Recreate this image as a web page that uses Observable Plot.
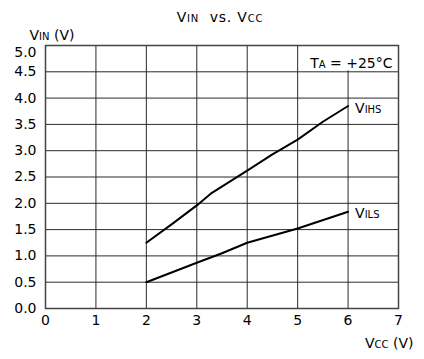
<!DOCTYPE html>
<html>
<head>
<meta charset="utf-8">
<script src="https://cdn.jsdelivr.net/npm/d3@7"></script>
<script src="https://cdn.jsdelivr.net/npm/@observablehq/plot@0.6"></script>
<style>
  html, body { margin: 0; padding: 0; background: #fff; }
  svg { display: block; }
</style>
</head>
<body>
<div id="chart"></div>
<script>
// ---- data ----
const vccHigh = [2, 2.5, 3, 3.3, 4, 4.5, 5, 5.5, 6];
const vihs    = [1.25, 1.6, 1.96, 2.2, 2.62, 2.93, 3.21, 3.55, 3.85];
const vccLow  = [2, 3, 3.5, 4, 5, 6];
const vils    = [0.5, 0.87, 1.05, 1.25, 1.52, 1.84];
const xTicks  = [0, 1, 2, 3, 4, 5, 6, 7];
const yTicks  = [0, 0.5, 1, 1.5, 2, 2.5, 3, 3.5, 4, 4.5, 5];
const seriesNames = ["V{IHS}", "V{ILS}"];
const titleText = "V{IN}  vs. V{CC}";
const yLabelText = "V{IN} (V)";
const xLabelText = "V{CC} (V)";
const tempText = "T{A} = +25°C";
const tempBox = [{x1: 5.06, x2: 7, y1: 4.5, y2: 5}];

const high = vccHigh.map((x, i) => ({x, y: vihs[i]}));
const low = vccLow.map((x, i) => ({x, y: vils[i]}));
const endHigh = [{x: vccHigh.at(-1), y: vihs.at(-1), name: seriesNames[0]}];
const endLow = [{x: vccLow.at(-1), y: vils.at(-1), name: seriesNames[1]}];

const font = "'DejaVu Sans', Verdana, sans-serif";
const gridColor = "#2a2a2a";

const chart = Plot.plot({
  width: 424,
  height: 359,
  marginLeft: 45,
  marginRight: 26,
  marginTop: 45,
  marginBottom: 51,
  style: {fontFamily: font, fontSize: "14px", color: "#000", background: "#fff", overflow: "visible"},
  x: {domain: [0, 7], ticks: xTicks, tickSize: 0, tickPadding: 7, tickFormat: d => String(d), label: null},
  y: {domain: [0, 5], ticks: yTicks, tickSize: 0, tickPadding: 9, tickFormat: d3.format(".1f"), label: null},
  marks: [
    Plot.ruleX(xTicks, {stroke: gridColor, strokeWidth: 1}),
    Plot.rect(tempBox, {x1: "x1", x2: "x2", y1: "y1", y2: "y2", fill: "#fff", insetBottom: 1}),
    Plot.ruleY(yTicks, {stroke: gridColor, strokeWidth: 1}),
    Plot.frame({stroke: "#444", strokeWidth: 1.5}),
    Plot.line(high, {x: "x", y: "y", stroke: "#000", strokeWidth: 2}),
    Plot.line(low, {x: "x", y: "y", stroke: "#000", strokeWidth: 2}),
    Plot.text(endHigh, {x: "x", y: "y", text: "name", textAnchor: "start", dx: 7, dy: 3, fill: "#000", fontSize: 14}),
    Plot.text(endLow, {x: "x", y: "y", text: "name", textAnchor: "start", dx: 7, dy: 2, fill: "#000", fontSize: 14}),
    Plot.text([titleText], {frameAnchor: "top", text: d => d, lineAnchor: "bottom", dy: -24, dx: -2, fill: "#000", fontSize: 14}),
    Plot.text([yLabelText], {frameAnchor: "top-left", text: d => d, textAnchor: "start", lineAnchor: "bottom", dx: -16, dy: -6, fill: "#000", fontSize: 14}),
    Plot.text([xLabelText], {frameAnchor: "bottom-right", text: d => d, textAnchor: "end", lineAnchor: "bottom", dx: 15, dy: 39, fill: "#000", fontSize: 14}),
    Plot.text([tempText], {frameAnchor: "top-right", text: d => d, textAnchor: "end", lineAnchor: "bottom", dx: -6, dy: 22, fill: "#000", fontSize: 14})
  ]
});

// convert {..} segments into small-caps style subscripts
d3.select(chart).selectAll("text").each(function() {
  const t = d3.select(this);
  const s = this.textContent;
  if (!s.includes("{")) return;
  const parts = s.split(/\{([^}]*)\}/);
  t.text(null);
  parts.forEach((p, i) => {
    if (!p) return;
    const ts = t.append("tspan").text(p);
    if (i % 2 === 1) ts.attr("font-size", "10px");
  });
  t.attr("xml:space", "preserve");
  if (s === titleText) t.attr("letter-spacing", "0.8px");
});
// nudge the top y tick label down as in the original
d3.select(chart).selectAll("[aria-label='y-axis tick label'] text").each(function() {
  if (this.textContent === "5.0") d3.select(this).attr("transform", function() {
    return (this.getAttribute("transform") || "") + " translate(0,7)";
  });
});
d3.select(chart).selectAll("[aria-label^='y-axis'] text, [aria-label^='x-axis'] text").attr("fill", "#000");

document.getElementById("chart").appendChild(chart);
</script>
</body>
</html>
